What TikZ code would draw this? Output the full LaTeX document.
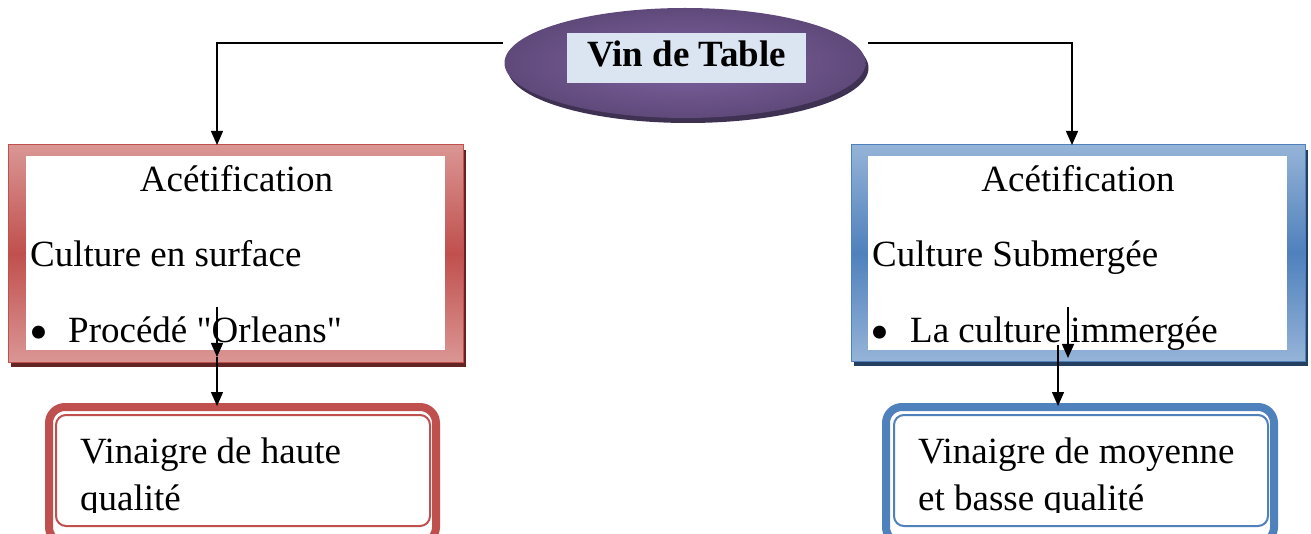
\documentclass[tikz,border=0pt]{standalone}
\usepackage{fontspec}
\setmainfont{Liberation Serif}[Ligatures=TeXOff]
\usetikzlibrary{shapes.geometric,arrows.meta,shadows}
\definecolor{redm}{HTML}{C0504D}
\definecolor{redl}{HTML}{DA9694}
\definecolor{redd}{HTML}{632523}
\definecolor{bluem}{HTML}{4F81BD}
\definecolor{bluel}{HTML}{95B3D7}
\definecolor{blued}{HTML}{243F60}
\definecolor{purm}{HTML}{5F497A}
\definecolor{purl}{HTML}{8064A2}
\definecolor{purd}{HTML}{3F3151}
\definecolor{tbox}{HTML}{DBE5F1}
\newcommand\bigfs{\fontsize{37}{47}\selectfont}
\newcommand\bulfs{\fontsize{54}{54}\selectfont}
\tikzset{
  conn/.style={line width=1.4pt,draw=black,-{Triangle[length=14pt,width=12pt]}},
  txt/.style={font=\bigfs,inner sep=0pt,anchor=base west},
  bul/.style={font=\bulfs,inner sep=0pt,anchor=base west},
  ctxt/.style={font=\bigfs,inner sep=0pt,anchor=base},
  framebox/.style={rectangle,inner sep=0pt,line width=1pt},
  whitebox/.style={rectangle,inner sep=0pt,fill=white,draw=none},
  resout/.style={rectangle,rounded corners=16pt,line width=8pt,fill=white,inner sep=0pt},
  resin/.style={rectangle,rounded corners=10pt,line width=2pt,inner sep=0pt},
}
\begin{document}
\begin{tikzpicture}[x=1pt,y=-1pt]
\useasboundingbox (0,0) rectangle (1311,534);
\clip (0,0) rectangle (1311,534);

% title ellipse
\node[ellipse,minimum width=361pt,minimum height=110pt,inner sep=0pt,
  inner color=purl,outer color=purm,
  drop shadow={shadow xshift=3pt,shadow yshift=-5pt,fill=purd,opacity=1}]
  (vin) at (685,63) {};
\node[rectangle,fill=tbox,minimum width=239pt,minimum height=50pt,inner sep=0pt,
  text height=25pt,text depth=7pt,font=\bigfs\bfseries] (vtitle) at (686.5,58) {Vin de Table};

% left process box
\node[framebox,minimum width=455pt,minimum height=217pt,draw=redm,
  top color=redl,bottom color=redl,middle color=redm,
  drop shadow={shadow xshift=3pt,shadow yshift=-5pt,fill=redd,opacity=1}]
  (lbox) at (235.5,253.5) {};
\node[whitebox,minimum width=419pt,minimum height=194pt] (lboxin) at (235.5,253) {};
\node[ctxt] (lt1) at (236.5,192) {Acétification};
\node[txt] (lt2) at (30,267) {Culture en surface};
\node[bul] (lb) at (29,351) {•};
\node[txt] (lt3) at (68,343) {Procédé "Orleans"};

% right process box
\node[framebox,minimum width=454pt,minimum height=216pt,draw=bluem,
  top color=bluel,bottom color=bluel,middle color=bluem,
  drop shadow={shadow xshift=3pt,shadow yshift=-5pt,fill=blued,opacity=1}]
  (rbox) at (1078,253) {};
\node[whitebox,minimum width=419pt,minimum height=194pt] (rboxin) at (1077.5,253) {};
\node[ctxt] (rt1) at (1078,192) {Acétification};
\node[txt] (rt2) at (872,267) {Culture Submergée};
\node[bul] (rb) at (870,351) {•};
\node[txt] (rt3) at (910,343) {La culture immergée};

% result boxes
\node[resout,draw=redm,minimum width=387pt,minimum height=136pt] (lres) at (242.5,475) {};
\node[resin,draw=redm,minimum width=374pt,minimum height=111pt] (lresin) at (243,470.5) {};
\node[resout,draw=bluem,minimum width=388pt,minimum height=136pt] (rres) at (1080,475) {};
\node[resin,draw=bluem,minimum width=374pt,minimum height=111pt] (rresin) at (1081,470.5) {};
\begin{scope}
\clip (0,0) rectangle (1311,512);
\node[txt] (lr1) at (80,463) {Vinaigre de haute};
\node[txt] (lr2) at (80,510) {qualité};
\node[txt] (rr1) at (918,463) {Vinaigre de moyenne};
\node[txt] (rr2) at (918,510) {et basse qualité};
\end{scope}

% connectors
\coordinate (ls) at (503,43);
\coordinate (la) at (217,145);
\coordinate (rs) at (868,43);
\coordinate (ra) at (1072,145);
\draw[conn] (ls) -| (la);
\draw[conn] (rs) -| (ra);

\coordinate (l1) at (217,307);
\coordinate (l2) at (217,357);
\coordinate (l3) at (217,406);
\draw[conn] (l1) -- (l2);
\draw[conn] (l2) -- (l3);

\coordinate (r1) at (1068,307);
\coordinate (r2) at (1068,358);
\coordinate (r3) at (1058,345);
\coordinate (r4) at (1058,406);
\draw[conn] (r1) -- (r2);
\draw[conn] (r3) -- (r4);
\end{tikzpicture}
\end{document}
